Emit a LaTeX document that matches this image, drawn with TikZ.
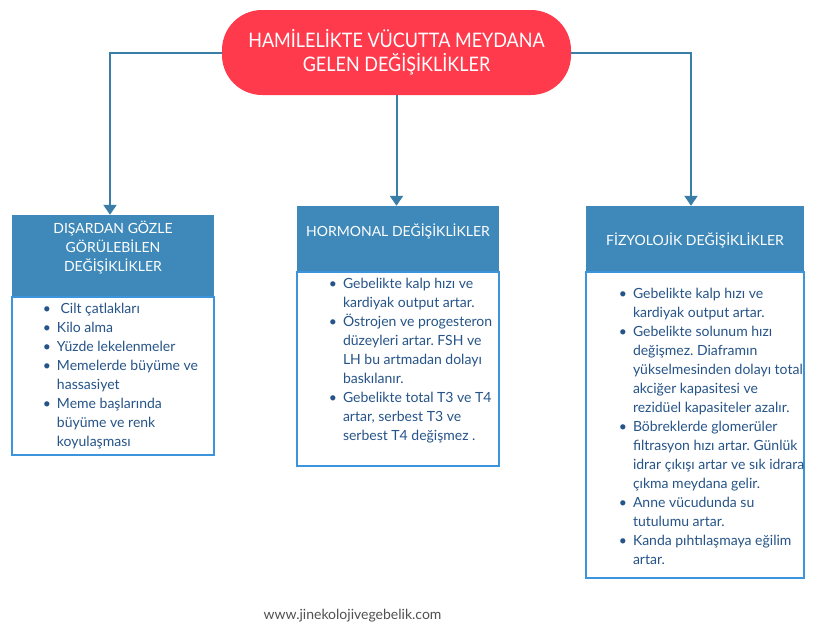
\documentclass[tikz,border=0pt]{standalone}
\usepackage{fontspec}
\setmainfont{Lato}
\newfontfamily\titlefont[FakeStretch=0.9]{Lato}
\usepackage{xcolor}
\usepackage{tikz}
\usetikzlibrary{arrows.meta,positioning}
\frenchspacing

\definecolor{titlered}{RGB}{255,58,76}
\definecolor{headblue}{RGB}{62,137,185}
\definecolor{linkblue}{RGB}{58,125,166}
\definecolor{edgeblue}{RGB}{60,148,220}
\definecolor{itemtext}{RGB}{38,84,136}
\definecolor{footgray}{RGB}{80,80,80}

% header text, raised so that its first line sits where we want it
\newcommand{\headtxt}[2]{\raisebox{#1}[0pt][0pt]{%
  \begin{tabular}[t]{@{}c@{}}#2\end{tabular}}}
% bullet list: raise, box width, indent, items
\newcommand{\itemtxt}[4]{\raisebox{#1}[0pt][0pt]{\makebox[#2][l]{%
  \parbox[t]{#2}{%
  \begin{list}{\textbullet}{\setlength{\leftmargin}{#3}%
      \setlength{\labelwidth}{10pt}\setlength{\labelsep}{6pt}%
      \setlength{\rightmargin}{-40pt}\setlength{\itemsep}{0pt}%
      \setlength{\parsep}{0pt}\setlength{\topsep}{0pt}%
      \setlength{\partopsep}{0pt}}%
    #4
  \end{list}}}}}

\begin{document}
\begin{tikzpicture}[
    x=1pt, y=-1pt,
    mainbox/.style={fill=titlered, rounded corners=40pt,
                    minimum width=349pt, minimum height=85pt,
                    text=white, align=center,
                    font=\titlefont\fontsize{20}{24}\selectfont},
    headbox/.style={fill=headblue, text=white, inner sep=0pt,
                    minimum width=202pt, minimum height=65pt,
                    font=\fontsize{14}{19}\selectfont},
    bodybox/.style={draw=edgeblue, line width=2pt, fill=white,
                    inner sep=0pt, text=itemtext,
                    font=\fontsize{14}{19}\selectfont},
    link/.style={-{Triangle[width=13pt,length=10pt]}, draw=linkblue,
                 line width=2pt},
  ]
  \useasboundingbox (0,0) rectangle (815,635);

  % ── Top: title ──
  \node[mainbox] at (396.5, 52.5) (title)
    {HAMİLELİKTE VÜCUTTA MEYDANA\\GELEN DEĞİŞİKLİKLER};

  % ── Left column ──
  \node[headbox, minimum height=81pt] at (113, 255.5) (outerhead)
    {\headtxt{22.5pt}{DIŞARDAN GÖZLE\\GÖRÜLEBİLEN\\DEĞİŞİKLİKLER}};
  \node[bodybox, minimum width=202pt, minimum height=158pt,
        below=0pt of outerhead] (outerbody)
    {\itemtxt{73pt}{202pt}{45pt}{%
      \item \ Cilt çatlakları
      \item Kilo alma
      \item Yüzde lekelenmeler
      \item Memelerde büyüme ve\newline hassasiyet
      \item Meme başlarında\newline büyüme ve renk\newline koyulaşması}};

  % ── Middle column ──
  \node[headbox] at (398, 238.5) (hormonhead)
    {\headtxt{2.5pt}{HORMONAL DEĞİŞİKLİKLER}};
  \node[bodybox, minimum width=202pt, minimum height=194pt,
        below=0pt of hormonhead] (hormonbody)
    {\itemtxt{91pt}{202pt}{46pt}{%
      \item Gebelikte kalp hızı ve\newline kardiyak output artar.
      \item Östrojen ve progesteron\newline düzeyleri artar. FSH ve\newline
            LH bu artmadan dolayı\newline baskılanır.
      \item Gebelikte total T3 ve T4\newline artar, serbest T3 ve\newline
            serbest T4 değişmez .}};

  % ── Right column ──
  \node[headbox, minimum width=218pt] at (695, 238.5) (fizyohead)
    {\headtxt{-6.5pt}{FİZYOLOJİK DEĞİŞİKLİKLER}};
  \node[bodybox, minimum width=218pt, minimum height=306pt,
        below=0pt of fizyohead] (fizyobody)
    {\itemtxt{137pt}{218pt}{47pt}{%
      \item Gebelikte kalp hızı ve\newline kardiyak output artar.
      \item Gebelikte solunum hızı\newline değişmez. Diaframın\newline
            yükselmesinden dolayı total\newline akciğer kapasitesi ve\newline
            rezidüel kapasiteler azalır.
      \item Böbreklerde glomerüler\newline filtrasyon hızı artar. Günlük\newline
            idrar çıkışı artar ve sık idrara\newline çıkma meydana gelir.
      \item Anne vücudunda su\newline tutulumu artar.
      \item Kanda pıhtılaşmaya eğilim\newline artar.}};

  % ── Footer ──
  \node[text=footgray, font=\fontsize{14}{16}\selectfont]
    at (352.5, 616) (site) {www.jinekolojivegebelik.com};

  % ── Arrows from the title down to each column ──
  \draw[link] (title.west) -| ([xshift=-3pt]outerhead.north);
  \draw[link] (title.south) -- (title.south |- hormonhead.north);
  \draw[link] (title.east) -| ([xshift=-4pt]fizyohead.north);

\end{tikzpicture}
\end{document}
